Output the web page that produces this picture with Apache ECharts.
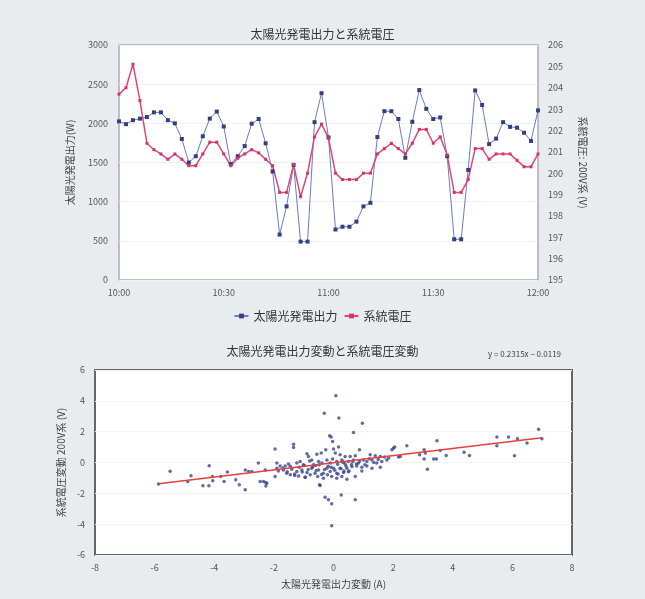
<!DOCTYPE html>
<html>
<head>
<meta charset="utf-8">
<style>
  html, body { margin: 0; padding: 0; background: #e9ecef; }
  #main { width: 645px; height: 599px; }
</style>
<script src="https://cdn.jsdelivr.net/npm/echarts@6/dist/echarts.min.js"></script>
</head>
<body>
<div id="main"></div>
<script>
// 時刻 (2分毎)
var times = ['10:00','10:02','10:04','10:06','10:08','10:10','10:12','10:14','10:16','10:18',
  '10:20','10:22','10:24','10:26','10:28','10:30','10:32','10:34','10:36','10:38',
  '10:40','10:42','10:44','10:46','10:48','10:50','10:52','10:54','10:56','10:58',
  '11:00','11:02','11:04','11:06','11:08','11:10','11:12','11:14','11:16','11:18',
  '11:20','11:22','11:24','11:26','11:28','11:30','11:32','11:34','11:36','11:38',
  '11:40','11:42','11:44','11:46','11:48','11:50','11:52','11:54','11:56','11:58','12:00'];

// 太陽光発電出力 (W)
var pvPower = [2025, 1990, 2040, 2060, 2080, 2140, 2140, 2040, 2000, 1800,
  1500, 1580, 1835, 2060, 2150, 1960, 1480, 1580, 1710, 1995,
  2055, 1745, 1385, 580, 940, 1470, 490, 490, 2015, 2385,
  1820, 645, 680, 680, 745, 940, 985, 1825, 2155, 2155,
  2055, 1560, 2020, 2425, 2185, 2055, 2075, 1580, 520, 520,
  1405, 2420, 2235, 1735, 1805, 2015, 1955, 1945, 1880, 1775, 2165];

// 系統電圧 (V)
var gridVolt = [203.7, 204.0, 205.1, 203.4, 201.4, 201.1, 200.9, 200.65, 200.9, 200.65,
  200.35, 200.35, 200.9, 201.45, 201.45, 200.9, 200.35, 200.7, 200.9, 201.1,
  200.95, 200.65, 200.35, 199.1, 199.1, 200.4, 198.9, 200.0, 201.7, 202.3,
  201.65, 200.0, 199.7, 199.7, 199.7, 200.0, 200.0, 200.9, 201.15, 201.4,
  201.15, 200.9, 201.4, 202.05, 202.05, 201.4, 201.7, 200.85, 199.1, 199.1,
  199.7, 201.15, 201.15, 200.65, 200.9, 200.9, 200.9, 200.6, 200.3, 200.3, 200.9];

// 出力変動 (A)
var dPower = [-5.87, -5.48, -4.89, -4.78, -4.38, -4.18, -4.17, -4.06, -4.05, -3.78,
  -3.67, -3.56, -3.28, -3.16, -2.96, -2.85, -2.46, -2.27, -2.27, -2.35,
  -2.24, -2.52, -2.96, -2.74, -2.29, -1.96, -1.90, -1.79, -1.62, -1.51,
  -1.23, -1.12, -1.01, -1.90, -1.68, -1.40, -1.23, -1.06, -1.57, -1.17,
  -0.95, -1.96, -1.34, -1.34, -0.89, -0.84, -0.56, -0.41, -0.26, -0.73,
  -0.67, -0.50, -0.39, -0.22, -0.11, -0.03, -0.89, -0.73, -0.62, -0.50,
  -0.34, -0.22, -0.11, -0.53, -0.34, -0.06, -0.45, -0.47, -0.95, 0.00,
  0.06, 0.22, 0.39, 0.56, 0.73, 0.11, 0.28, 0.39, 0.50, 0.67,
  0.84, 0.00, 0.11, 0.22, 0.34, 0.45, 0.62, 0.78, 0.95, 0.11,
  0.28, 0.45, 0.73, 1.01, 1.12, 1.29, 1.45, 1.62, 1.79, 1.12,
  1.29, 1.57, 1.23, 1.40, 1.57, 1.71, 1.96, 2.18, 0.87, 0.17,
  0.08, -0.31, 0.18, 0.97, 0.67, -0.13, -0.08, -0.03, -0.28, -0.17,
  -0.06, 0.26, 0.73, -0.06, -0.60, 0.35, 0.15, -0.20, 0.50, -1.45,
  2.01, 2.24, 2.46, 2.89, 3.04, 3.04, 3.15, 3.36, 3.45, 3.47,
  3.58, 3.78, 3.08, 4.38, 4.56, 5.48, 5.48, 5.87, 6.07, 6.17,
  6.49, 6.88, 6.99, 2.05, 1.85, 0.95, -0.80, -1.30, 0.30, 0.60,
  -1.85, -1.70, -1.55, -1.45, -1.30, -1.15, -1.05, -0.98, -0.85, -0.78,
  -0.70, -0.58, -0.48, -0.40, -0.30, -0.18, -0.08, 0.04, 0.14, 0.25,
  0.33, 0.42, 0.52, 0.64, 0.77, 0.88, 1.05, 1.20, 1.35, 1.50];

// 電圧変動 (V)
var dVolt = [-1.40, -0.56, -1.23, -0.86, -1.51, -1.51, -0.21, -0.91, -1.19, -0.91,
  -1.23, -0.62, -1.12, -1.45, -1.77, -0.58, -1.23, -1.30, -1.52, -1.23,
  -1.34, -0.04, -0.48, -0.58, -0.48, -0.91, -0.04, -0.22, -0.22, -0.09,
  -0.04, 0.06, -0.15, -0.37, -0.48, -0.43, -0.58, -0.48, -0.69, -0.87,
  -0.95, 0.87, 1.19, 0.97, 0.56, 0.39, 0.54, 0.61, 0.82, 0.17,
  -0.15, 0.06, -0.04, 0.17, -0.04, 0.22, -0.65, -0.37, -0.69, -0.48,
  -0.69, -0.37, -0.58, -0.91, -1.02, -0.91, -1.49, -1.45, -0.95, 0.87,
  0.61, 0.50, 0.39, 0.39, 0.43, 0.06, 0.17, -0.09, 0.06, 0.17,
  -0.04, -0.37, -0.69, -0.37, -0.65, -0.37, -0.26, -0.22, -0.30, -1.02,
  -0.91, -1.08, -0.91, 0.17, 0.06, 0.17, -0.04, 0.06, 0.17, -0.22,
  -0.37, -0.30, 0.50, 0.43, 0.39, 0.35, 0.82, 0.35, 0.82, 1.00,
  4.33, 3.20, 2.88, 2.55, 1.95, 1.73, 1.65, 1.36, -2.25, -2.42,
  -2.68, -2.10, -2.42, -4.11, -0.20, -0.55, -0.75, -0.80, -0.60, -0.80,
  0.93, 0.39, 1.08, 0.50, 0.82, 0.22, -0.43, 0.22, 0.22, 1.41,
  0.78, 0.45, 0.61, 0.67, 0.45, 1.65, 1.08, 1.65, 0.43, 1.54,
  1.26, 2.16, 1.54, 1.00, 0.30, -0.55, 0.10, -0.85, 0.05, -0.15,
  -0.55, -0.35, -0.60, -0.25, -0.75, -0.30, -0.62, -0.20, -0.45, -0.80,
  -0.28, -0.52, -0.15, -0.78, -0.45, -0.25, -0.30, -0.50, -0.12, -0.40,
  0.00, -0.22, -0.55, 0.05, -0.10, 0.10, -0.15, 0.25, 0.00, 0.20];

// 近似直線 y = 0.2315x - 0.0119
var trendSlope = 0.2315;
var trendIntercept = -0.0119;
var trendLabel = 'y = 0.2315x − 0.0119';

var scatterData = dPower.map(function (x, i) { return [x, dVolt[i]]; });
var xMin = Math.min.apply(null, dPower);
var xMax = Math.max.apply(null, dPower);
var trendData = [[xMin, trendSlope * xMin + trendIntercept], [xMax, trendSlope * xMax + trendIntercept]];

var font = '"Noto Sans CJK JP", "Noto Sans", sans-serif';
var labelStyle = { color: '#555', fontSize: 9, fontFamily: font };
var nameStyle = { color: '#444', fontSize: 10, fontFamily: font };
var plain = function (v) { return String(v); };

var myChart = echarts.init(document.getElementById('main'));
myChart.setOption({
  backgroundColor: '#e9ecef',
  animation: false,
  textStyle: { fontFamily: font },
  title: [{
    text: '太陽光発電出力と系統電圧',
    left: 'center', top: 23,
    textStyle: { fontSize: 12, fontWeight: 'normal', color: '#333', fontFamily: font }
  }, {
    text: '太陽光発電出力変動と系統電圧変動',
    left: 'center', top: 340,
    textStyle: { fontSize: 12, fontWeight: 'normal', color: '#333', fontFamily: font }
  }],
  legend: {
    top: 305, left: 'center',
    itemWidth: 14, itemHeight: 6, itemGap: 6,
    textStyle: { fontSize: 12, color: '#333', fontFamily: font },
    data: ['太陽光発電出力', '系統電圧']
  },
  graphic: [{
    type: 'text', left: 488, top: 350,
    style: { text: trendLabel, fontSize: 8, fill: '#444', fontFamily: font }
  }],
  grid: [{
    left: 119, top: 45, width: 419, height: 235,
    show: true, backgroundColor: '#fff', borderColor: '#aab', borderWidth: 1.5
  }, {
    left: 95, top: 370, width: 477, height: 185,
    show: true, backgroundColor: '#fff', borderColor: '#666', borderWidth: 2
  }],
  xAxis: [{
    gridIndex: 0, type: 'category', data: times, boundaryGap: false,
    axisLine: { show: false }, axisTick: { show: false },
    axisLabel: Object.assign({ interval: 14, margin: 8 }, labelStyle),
    splitLine: { show: false }
  }, {
    gridIndex: 1, type: 'value', min: -8, max: 8, interval: 2,
    name: '太陽光発電出力変動 (A)', nameLocation: 'middle', nameGap: 24,
    nameTextStyle: nameStyle,
    axisLine: { show: false }, axisTick: { show: false },
    axisLabel: Object.assign({ margin: 8, formatter: plain }, labelStyle),
    splitLine: { show: false }
  }],
  yAxis: [{
    gridIndex: 0, type: 'value', min: 0, max: 3000, interval: 500,
    name: '太陽光発電出力(W)', nameLocation: 'middle', nameGap: 44,
    nameTextStyle: nameStyle,
    axisLine: { show: false }, axisTick: { show: false },
    axisLabel: Object.assign({ margin: 11, formatter: plain }, labelStyle),
    splitLine: { lineStyle: { color: '#f0f0f2' } }
  }, {
    gridIndex: 0, type: 'value', position: 'right', min: 195, max: 206, interval: 1,
    name: '系統電圧: 200V系 (V)', nameLocation: 'middle', nameGap: 40, nameRotate: -90,
    nameTextStyle: nameStyle,
    axisLine: { show: false }, axisTick: { show: false },
    axisLabel: Object.assign({ margin: 10, formatter: plain }, labelStyle),
    splitLine: { show: false }
  }, {
    gridIndex: 1, type: 'value', min: -6, max: 6, interval: 2,
    name: '系統電圧変動 200V系 (V)', nameLocation: 'middle', nameGap: 24,
    nameTextStyle: nameStyle,
    axisLine: { show: false }, axisTick: { show: false },
    axisLabel: Object.assign({ margin: 10, formatter: plain }, labelStyle),
    splitLine: { lineStyle: { color: '#f2f2f4' } }
  }],
  series: [{
    name: '太陽光発電出力', type: 'line',
    xAxisIndex: 0, yAxisIndex: 0,
    data: pvPower,
    symbol: 'rect', symbolSize: 4,
    lineStyle: { color: '#6a7cbf', width: 1 },
    itemStyle: { color: '#34407e' }
  }, {
    name: '系統電圧', type: 'line',
    xAxisIndex: 0, yAxisIndex: 1,
    data: gridVolt,
    symbol: 'rect', symbolSize: 3,
    lineStyle: { color: '#e0457a', width: 1.5 },
    itemStyle: { color: '#d8306a' }
  }, {
    name: '変動', type: 'scatter',
    xAxisIndex: 1, yAxisIndex: 2,
    data: scatterData,
    symbol: 'circle', symbolSize: 3.5,
    itemStyle: { color: '#3a4690' }
  }, {
    name: '近似直線', type: 'line',
    xAxisIndex: 1, yAxisIndex: 2,
    data: trendData,
    symbol: 'none',
    lineStyle: { color: '#e8403a', width: 1.5 }
  }]
});
</script>
</body>
</html>
